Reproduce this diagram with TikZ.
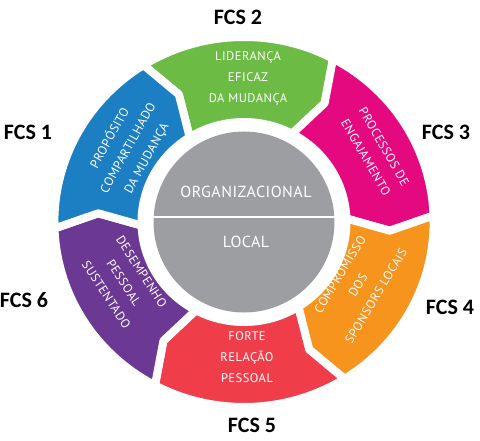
\documentclass[tikz,border=0pt]{standalone}
\usepackage{fontspec}
\newfontfamily\segfont[LetterSpace=4]{PT Sans}
\newfontfamily\corefont[LetterSpace=3]{PT Sans}
\newfontfamily\fcsfont{Carlito}
\definecolor{cgreen}{HTML}{6CBB45}
\definecolor{cpink}{HTML}{E5097F}
\definecolor{corange}{HTML}{F7941E}
\definecolor{cred}{HTML}{EF3E4A}
\definecolor{cpurple}{HTML}{6B3894}
\definecolor{cblue}{HTML}{1C7EC3}
\definecolor{cgray}{HTML}{9D9EA1}
\newcommand\drawsegment[2]{%
  \pgfmathsetmacro\segT{#2+32}%
  \pgfmathsetmacro\segL{#2-28}%
  \pgfmathsetmacro\segTv{\segT-5.5}%
  \pgfmathsetmacro\segLv{\segL-5.5}%
  \path[seg=#1] (\segT:185) arc[start angle=\segT, end angle=\segL, radius=185]
    -- (\segLv:142.5) -- (\segL:100) arc[start angle=\segL, end angle=\segT, radius=100]
    -- (\segTv:142.5) -- cycle;}
\begin{document}
\begin{tikzpicture}[x=1pt,y=1pt,
  seg/.style={fill=#1, draw=white, line width=8pt, line join=round},
  segtxt/.style={text=white, align=center, inner sep=0pt, font=\segfont\fontsize{12.5}{21}\selectfont},
  coretxt/.style={text=white, inner sep=0pt, font=\corefont\fontsize{16}{18}\selectfont},
  fcs/.style={inner sep=0pt, font=\fcsfont\bfseries\fontsize{22}{22}\selectfont}]
\useasboundingbox (0,0) rectangle (480,440);
\begin{scope}[shift={(244,218)}, xscale=1.025]
  \drawsegment{cgreen}{90}
  \drawsegment{cpink}{30}
  \drawsegment{corange}{-30}
  \drawsegment{cred}{-90}
  \drawsegment{cpurple}{-150}
  \drawsegment{cblue}{150}
\end{scope}
\node[circle, fill=cgray, minimum size=181pt, inner sep=0pt] (core) at (244,218) {};
\draw[white, line width=2.5pt] ([yshift=5pt]core.west) -- ([yshift=5pt]core.east);
\node[coretxt] (org) at (246,248) {ORGANIZACIONAL};
\node[coretxt] (loc) at (246,198) {LOCAL};
\node[segtxt] (t2) at (248,362) {LIDERANÇA\\EFICAZ\\DA MUDANÇA};
\node[segtxt, rotate=-60] (t3) at (375,288) {PROCESSOS DE\\ENGAJAMENTO};
\node[segtxt, rotate=59] (t4) at (358,155) {COMPROMISSO\\DOS\\SPONSORS LOCAIS};
\node[segtxt] (t5) at (247,83) {FORTE\\RELAÇÃO\\PESSOAL};
\node[segtxt, rotate=-57] (t6) at (124,157) {DESEMPENHO\\PESSOAL\\SUSTENTADO};
\node[segtxt, rotate=61] (t1) at (128,292) {PROPÓSITO\\COMPARTILHADO\\DA MUDANÇA};
\node[fcs] (f1) at (28,308) {FCS 1};
\node[fcs] (f2) at (238,423) {FCS 2};
\node[fcs] (f3) at (446,308) {FCS 3};
\node[fcs] (f4) at (450,133) {FCS 4};
\node[fcs] (f5) at (252,15) {FCS 5};
\node[fcs] (f6) at (24,140) {FCS 6};
\end{tikzpicture}
\end{document}
